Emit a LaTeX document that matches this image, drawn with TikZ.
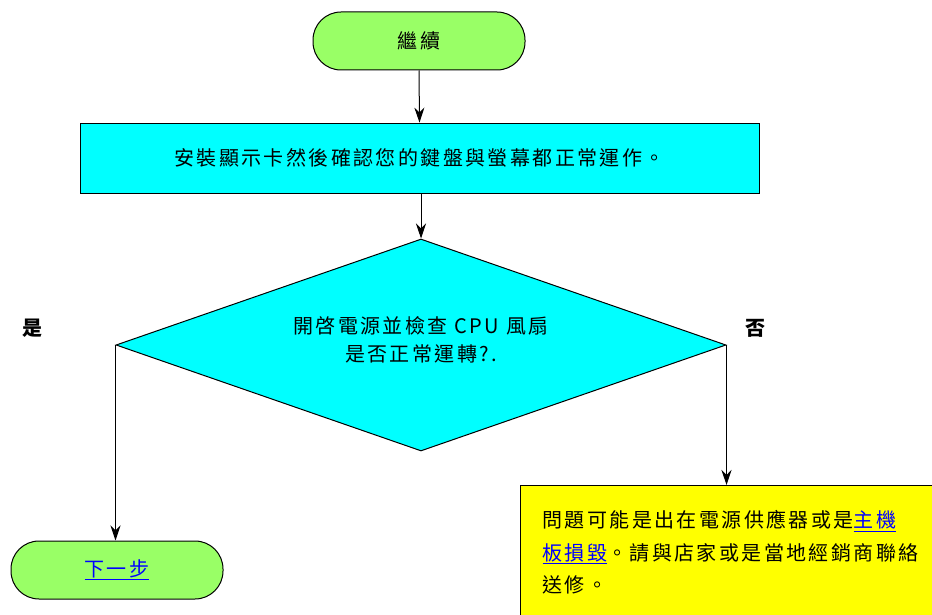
\documentclass[tikz,border=0pt]{standalone}
\usepackage{fontspec}
\setmainfont{Liberation Sans}
\newfontfamily\cjk[LetterSpace=12]{Noto Sans CJK TC}
\usepackage{tikz}
\usetikzlibrary{shapes.geometric, arrows.meta, positioning}
\definecolor{termgreen}{RGB}{153,255,102}
\definecolor{stepcyan}{RGB}{0,255,255}
\definecolor{noteyellow}{RGB}{255,255,0}
\definecolor{linkblue}{RGB}{0,0,255}
\newcommand{\linktext}[1]{\textcolor{linkblue}{\underline{#1}}}

\begin{document}
\begin{tikzpicture}[x=1pt, y=-1pt,
    terminal/.style={rectangle, draw=black, line width=1pt, fill=termgreen,
                     rounded corners=28pt, minimum width=212pt,
                     minimum height=58pt, font=\cjk\fontsize{20}{24}\selectfont},
    process/.style={rectangle, draw=black, line width=0.8pt, fill=stepcyan,
                    minimum width=679pt, minimum height=70pt,
                    font=\cjk\fontsize{20}{24}\selectfont},
    decision/.style={diamond, draw=black, line width=1pt, fill=stepcyan,
                     minimum width=610pt, minimum height=212pt, aspect=2.88,
                     inner sep=0pt, align=center,
                     font=\cjk\fontsize{20}{28}\selectfont},
    note/.style={rectangle, draw=black, line width=1pt, fill=noteyellow,
                 text width=420pt, align=left,
                 inner xsep=22pt, inner ysep=25pt,
                 font=\cjk\fontsize{20}{32.5}\selectfont},
    branch/.style={font=\cjk\bfseries\fontsize{20}{24}\selectfont},
    arrow/.style={line width=1pt, -{Stealth[length=15pt, width=10pt, inset=5pt]}},
]
\useasboundingbox (0,0) rectangle (932,615);
\clip (0,0) rectangle (932,615);

\node[terminal] (resume) at (419,41) {繼續};
\node[process]  (setup)  at (419.5,158) {安裝顯示卡然後確認您的鍵盤與螢幕都正常運作。};
\node[decision] (check)  at (421,345)
  {開啓電源並檢查 CPU 風扇\\是否正常運轉?.\\[-16pt]};
\node[terminal] (next)   at (117,570) {\linktext{下一步}};
\node[note, anchor=north west] (repair) at (520,485)
  {問題可能是出在電源供應器或是\linktext{主機}\\
   \linktext{板損毀}。請與店家或是當地經銷商聯絡\\
   送修。};

% branch labels
\node[branch] (yes) at (33,328) {是};
\node[branch] (no)  at (755,328) {否};

\draw[arrow] (resume.south) -- (setup.north);
\draw[arrow] (setup.south -| check.north) -- (check.north);
\draw[arrow] (check.west) -- (check.west |- next.north);
\draw[arrow] (check.east) -- (check.east |- repair.north);
\end{tikzpicture}
\end{document}
